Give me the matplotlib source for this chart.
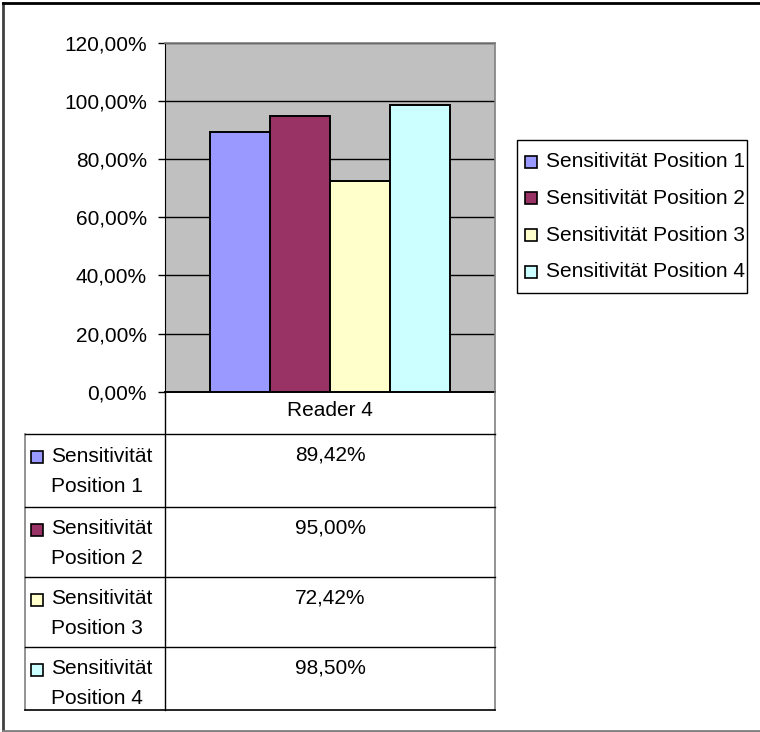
import matplotlib.pyplot as plt
from matplotlib.patches import Rectangle

plt.rcParams['font.family'] = ['Liberation Sans', 'DejaVu Sans']

# sensitivity per position, reader 4
category = 'Reader 4'
series = ['Sensitivität Position 1', 'Sensitivität Position 2',
          'Sensitivität Position 3', 'Sensitivität Position 4']
values = [0.8942, 0.9500, 0.7242, 0.9850]
colors = ['#9999FF', '#993366', '#FFFFCC', '#CCFFFF']
yticks = [0.0, 0.2, 0.4, 0.6, 0.8, 1.0, 1.2]

W, H = 760, 732
FS = 15


def pct(v):
    return f'{v * 100:.2f}%'.replace('.', ',')


fig = plt.figure(figsize=(W / 100, H / 100), dpi=100)

# plot area in pixel terms
px_l, px_r, px_t, px_b = 165, 495, 43, 391.7
ax = fig.add_axes([px_l / W, 1 - px_b / H, (px_r - px_l) / W, (px_b - px_t) / H])
ax.set_facecolor('#C0C0C0')
ax.set_xlim(0, 1)
ax.set_ylim(0, 1.2)
ax.set_axisbelow(True)
ax.yaxis.grid(True, color='black', linewidth=1)

bw = 60 / (px_r - px_l)
for i, (v, c) in enumerate(zip(values, colors)):
    ax.bar(0.5 + (i - 1.5) * bw, v, width=bw, color=c, edgecolor='black',
           linewidth=1.4, zorder=3)

ax.set_xticks([])
ax.set_yticks(yticks)
ax.set_yticklabels([pct(t) for t in yticks], fontsize=FS)
ax.tick_params(axis='y', direction='out', length=5, width=1, pad=8)
for side in ['top', 'right']:
    ax.spines[side].set_color('#808080')
    ax.spines[side].set_linewidth(1.2)
ax.spines['left'].set_color('black')
ax.spines['bottom'].set_color('black')
ax.spines['bottom'].set_linewidth(1.4)

# overlay in pixel coordinates for the data table, legend and outer frame
ov = fig.add_axes([0, 0, 1, 1], facecolor='none')
ov.set_xlim(0, W)
ov.set_ylim(H, 0)
ov.axis('off')

# outer chart frame (right edge runs off the image)
ov.plot([2.5, 2.5], [2.5, 731], color='#404040', lw=2)
ov.plot([2.5, W], [2.5, 2.5], color='black', lw=2)
ov.plot([2.5, W], [731, 731], color='#808080', lw=2)

# table grid
tl, tc, tr = 25, px_l, px_r
rows = [434, 506.7, 576.7, 646.7, 710]
ov.plot([tc, tc], [px_b, rows[-1]], color='black', lw=1)
ov.plot([tr, tr], [px_b, rows[-1]], color='#808080', lw=1.2)
ov.plot([tl, tl], [rows[0], rows[-1]], color='#808080', lw=1.2)
ov.plot([tl, tr], [rows[-1], rows[-1]], color='black', lw=1.2)
for y in rows[:-1]:
    ov.plot([tl, tr], [y, y], color='black', lw=1)

ov.text((tc + tr) / 2, 411, category, ha='center', va='center', fontsize=FS)
for i, (name, v, c) in enumerate(zip(series, values, colors)):
    y0 = rows[i]
    ov.add_patch(Rectangle((30.5, y0 + 17), 12, 12, facecolor=c,
                           edgecolor='black', lw=1.2))
    ov.text(51, y0 + 22, 'Sensitivität', ha='left', va='center', fontsize=FS)
    ov.text(51, y0 + 52, name.split(' ', 1)[1], ha='left', va='center', fontsize=FS)
    ov.text((tc + tr) / 2, y0 + 21, pct(v), ha='center', va='center', fontsize=FS)

# legend box with colour keys
ov.add_patch(Rectangle((517, 140), 230, 153, facecolor='white',
                       edgecolor='black', lw=1))
for i, (name, c) in enumerate(zip(series, colors)):
    yc = 161.7 + i * 36.7
    ov.add_patch(Rectangle((525, yc - 6), 12, 12, facecolor=c,
                           edgecolor='black', lw=1.2))
    ov.text(546, yc, name, ha='left', va='center', fontsize=FS)

fig.savefig('out.png', dpi=100)
